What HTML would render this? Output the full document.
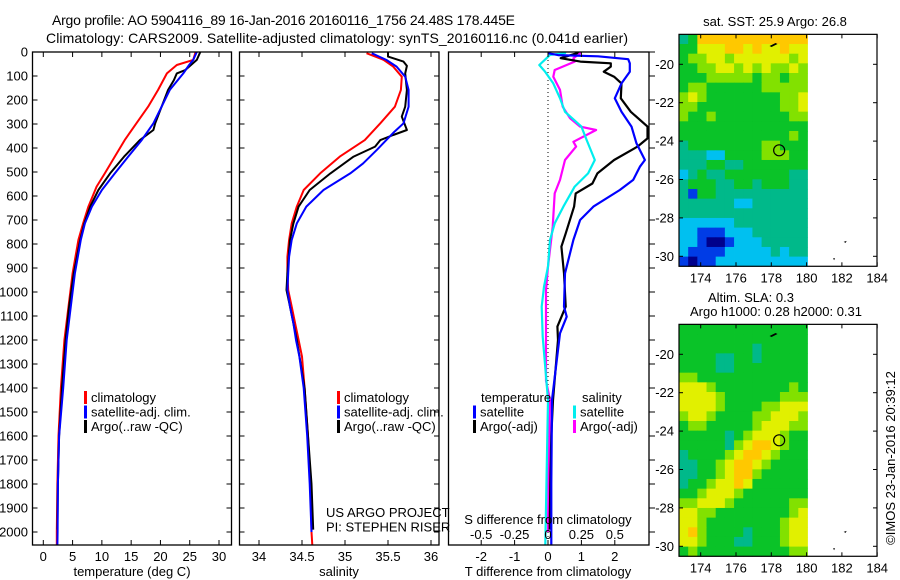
<!DOCTYPE html>
<html><head><meta charset="utf-8">
<style>
html,body{margin:0;padding:0;background:#fff;}
svg{display:block;font-family:"Liberation Sans",sans-serif;}
text{fill:#000;}
</style></head>
<body>
<svg id="fig" width="900" height="580" viewBox="0 0 900 580" xmlns="http://www.w3.org/2000/svg">
<text x="52" y="25" font-size="14" textLength="463">Argo profile: AO 5904116_89 16-Jan-2016 20160116_1756 24.48S 178.445E</text>
<text x="46" y="43" font-size="14" textLength="582">Climatology: CARS2009. Satellite-adjusted climatology: synTS_20160116.nc (0.041d earlier)</text>
<g id="p1"></g>
<g id="p2"></g>
<g id="p3"></g>
<g id="m1"></g>
<g id="m2"></g>
<text x="0" y="0" font-size="13" transform="translate(895,458) rotate(-90)" text-anchor="middle">©IMOS 23-Jan-2016 20:39:12</text>
</svg>
<script>
// ---- profile data ----
const tClimDepth=[0,33,54,89,158,228,297,367,436,506,561,644,714,783,922,1061,1200,1400,1600,1800,2000,2054];
const tClimVal=[26.0,25.6,22.8,21.1,19.6,17.9,15.9,13.9,12.2,10.5,9.1,7.7,6.8,6.0,5.0,4.3,3.6,3.0,2.6,2.4,2.3,2.3];
const tSatDepth=[0,33,54,89,158,228,297,367,436,506,575,644,714,783,922,1061,1200,1400,1600,1800,2000,2054];
const tSatVal=[26.2,25.6,24.9,23.9,21.6,20.2,18.8,16.8,14.5,12.2,10.0,8.3,7.1,6.4,5.4,4.7,4.0,3.4,2.7,2.5,2.45,2.4];
const tArgoDepth=[0,33,76,89,117,158,228,297,325,367,436,506,575,644,714,783,922,1061,1200,1400,1600,1800,1990];
const tArgoVal=[26.8,26.2,24.2,22.8,22.3,21.3,20.2,19.1,18.8,16.5,13.8,11.4,9.4,8.0,7.0,6.3,5.2,4.4,3.8,3.2,2.7,2.5,2.4];
const sClimDepth=[5,33,61,103,158,228,297,367,436,506,575,644,714,783,853,922,992,1061,1130,1200,1269,1400,1600,1800,2000,2054];
const sClimVal=[35.25,35.45,35.56,35.66,35.65,35.58,35.41,35.23,34.94,34.71,34.52,34.44,34.38,34.35,34.33,34.33,34.34,34.38,34.42,34.46,34.50,34.53,34.57,34.60,34.61,34.62];
const sSatDepth=[5,33,61,103,158,228,297,337,408,464,506,575,644,714,783,853,922,992,1061,1130,1200,1269,1400,1600,1800,2000];
const sSatVal=[35.31,35.48,35.60,35.70,35.74,35.74,35.68,35.56,35.37,35.21,35.06,34.75,34.55,34.44,34.38,34.35,34.34,34.33,34.36,34.40,34.43,34.47,34.52,34.56,34.59,34.61];
const sArgoDepth=[0,19,40,58,89,158,228,269,325,346,367,394,436,506,575,644,714,783,922,992,1061,1200,1400,1600,1800,1990];
const sArgoVal=[35.50,35.50,35.68,35.72,35.70,35.72,35.70,35.66,35.72,35.56,35.41,35.35,35.10,34.83,34.59,34.46,34.40,34.36,34.33,34.32,34.36,34.44,34.53,34.57,34.61,34.63];
const dTSatDepth=[5,13,18,30,47,82,131,193,249,311,381,450,478,533,575,644,700,783,922,1061,1103,1172,1450,1800,2000,2054];
const dTSatVal=[0.0,0.3,1.5,2.4,2.45,2.45,2.2,2.0,2.2,2.5,2.65,2.9,2.75,2.55,2.15,1.36,0.96,0.76,0.51,0.48,0.56,0.36,0.12,0.1,0.1,0.1];
const dTArgoDepth=[0,5,26,40,47,61,82,103,131,193,249,311,360,394,450,506,548,589,644,756,811,922,1061,1144,1200,1450,1600,1800,1990];
const dTArgoVal=[0.9,0.87,0.38,0.97,1.88,1.88,1.67,1.98,2.2,2.18,2.48,2.98,2.98,2.68,1.98,1.48,1.33,0.83,0.78,0.53,0.40,0.48,0.53,0.28,0.3,0.15,0.1,0.07,0.05];
const dSSatDepth=[0,5,12,54,82,131,193,249,311,367,450,506,561,644,714,783,894,978,1061,1186,1450,1900,2054];
const dSSatVal=[0.13,0.127,0.015,-0.065,-0.022,0.04,0.09,0.127,0.25,0.29,0.35,0.30,0.20,0.115,0.05,0.015,0.0,-0.03,-0.047,-0.04,0.0,-0.015,-0.02];
const dSArgoDepth=[0,5,26,40,75,103,158,228,276,311,325,374,394,450,533,589,728,894,992,1130,1370,1450,1700,2000];
const dSArgoVal=[0.24,0.24,0.19,0.2,0.05,0.04,0.09,0.11,0.165,0.24,0.36,0.19,0.21,0.127,0.09,0.05,0.035,0.0,-0.015,-0.015,-0.015,0.015,0.005,0.0];
const tTicks=[0,5,10,15,20,25,30];
const sTicks=[34,34.5,35,35.5,36];
const sTickLabels=["34","34.5","35","35.5","36"];
const dTTicks=[-2,-1,0,1,2];
const dSTicks=[-0.5,-0.25,0,0.25,0.5];
const dSTickLabels=["-0.5","-0.25","0","0.25","0.5"];
const depthTicks=[0,100,200,300,400,500,600,700,800,900,1000,1100,1200,1300,1400,1500,1600,1700,1800,1900,2000];
// ---- map data (levels 0..7) ----
const sstRows=["34777777777777","44666776766766","45566566666656","44556656565565","44455555455455","45544444455555","56544444444556","55444444444556","54454444444455","44444444444444","44444444444454","34444444455444","33322444455544","33344334444444","23433444444433","34443344344433","31443333333333","33333322333333","33333333333333","22222233333333","22111222333333","22100122233333","21111222223233","10112222222222"];
const slaRows=["44444444444444","44444444444444","44444444344444","44443344344444","44443344444444","55444444444444","66654444444454","66665444444555","66665444455666","56654444556665","45544444566655","44444345666544","44444356776544","34444567765444","33445677654444","33445677544444","34456676444444","44566654444444","55666544444455","66554444444456","66544444444566","67544443444566","66544433444566","45444444444455"];
const lonTicks=[174,176,178,180,182,184];
const latTicks=[-20,-22,-24,-26,-28,-30];
const argoLon=178.445, argoLat=-24.48;

const NS="http://www.w3.org/2000/svg";
function mk(parent,tag,attrs,txt){const e=document.createElementNS(NS,tag);for(const k in attrs)e.setAttribute(k,attrs[k]);if(txt!==undefined)e.textContent=txt;parent.appendChild(e);return e;}
const yD=d=>52+d*0.24;
const TOP=52,BOT=545;
const xT=t=>43.3+t*5.857;
const xS=s=>259+(s-34)*86;
const xDT=t=>548+t*33.4;
const xDS=s=>548+s*133.6;

function frame(g,x0,x1,name){
  const r=mk(g,'rect',{x:x0,y:TOP,width:x1-x0,height:BOT-TOP,fill:'none',stroke:'#000','stroke-width':1.3});
  
  
  depthTicks.forEach(d=>{
    const y=yD(d);
    const a=mk(g,'line',{x1:x0,x2:x0+5,y1:y,y2:y,stroke:'#000'});
    
    
    const b=mk(g,'line',{x1:x1,x2:x1-5,y1:y,y2:y,stroke:'#000'});
    
    
  });
}
function xticks(g,vals,labels,fx,y,lab){
  vals.forEach((v,i)=>{
    const x=fx(v);
    const a=mk(g,'line',{x1:x,x2:x,y1:BOT,y2:BOT-5,stroke:'#000'});
    
    
    const b=mk(g,'line',{x1:x,x2:x,y1:TOP,y2:TOP+5,stroke:'#000'});
    
    
    if(lab){const t=mk(g,'text',{x:x,y:y,'font-size':13,'text-anchor':'middle'},labels[i]);
    
    }
  });
}
function line(g,ds,vs,fx,color,w,name){
  const pts=ds.map((d,i)=>fx(vs[i]).toFixed(1)+','+yD(d).toFixed(1)).join(' ');
  const p=mk(g,'polyline',{points:pts,fill:'none',stroke:color,'stroke-width':w,'stroke-linejoin':'round'});
  
  
}
function legend(g,x,y,items){
  items.forEach((it,i)=>{
    const yy=y+i*14.5;
    const r=mk(g,'rect',{x:x,y:yy-11,width:3,height:13,fill:it[0]});
    
    
    const t=mk(g,'text',{x:x+7,y:yy,'font-size':13},it[1]);
    
    
  });
}
function clip(id,x0,x1,y0,y1){const svg=document.getElementById('fig');let defs=svg.querySelector('defs');if(!defs)defs=mk(svg,'defs',{});const c=mk(defs,'clipPath',{id:id});mk(c,'rect',{x:x0,y:y0,width:x1-x0,height:y1-y0});}

// Panel 1
const p1=document.getElementById('p1');
clip('c1',32.5,231.5,TOP,BOT);clip('c2',239.5,439,TOP,BOT);clip('c3',448.5,649,TOP,BOT);
const g1=mk(p1,'g',{'clip-path':'url(#c1)'});
line(g1,tClimDepth,tClimVal,xT,'#f00',2,'temp-climatology-line');
line(g1,tArgoDepth,tArgoVal,xT,'#000',2,'temp-argo-line');
line(g1,tSatDepth,tSatVal,xT,'#00f',2,'temp-satellite-line');
frame(p1,32.5,231.5,'temp-plot-frame');
xticks(p1,tTicks,tTicks.map(String),xT,561,true);
depthTicks.forEach(d=>{const t=mk(p1,'text',{x:28,y:yD(d)+4.5,'font-size':13,'text-anchor':'end'},String(d));

});
const xl1=mk(p1,'text',{x:132,y:576,'font-size':13,'text-anchor':'middle'},'temperature (deg C)');


legend(p1,84,402,[['#f00','climatology'],['#00f','satellite-adj. clim.'],['#000','Argo(..raw -QC)']]);

// Panel 2
const p2=document.getElementById('p2');
const g2=mk(p2,'g',{'clip-path':'url(#c2)'});
line(g2,sClimDepth,sClimVal,xS,'#f00',2,'sal-climatology-line');
line(g2,sArgoDepth,sArgoVal,xS,'#000',2,'sal-argo-line');
line(g2,sSatDepth,sSatVal,xS,'#00f',2,'sal-satellite-line');
frame(p2,239.5,439,'sal-plot-frame');
xticks(p2,sTicks,sTickLabels,xS,561,true);
const xl2=mk(p2,'text',{x:339,y:576,'font-size':13,'text-anchor':'middle'},'salinity');


legend(p2,337,402,[['#f00','climatology'],['#00f','satellite-adj. clim.'],['#000','Argo(..raw -QC)']]);
const us=mk(p2,'text',{x:326,y:517,'font-size':13},'US ARGO PROJECT');


const pi=mk(p2,'text',{x:326,y:531.5,'font-size':13},'PI: STEPHEN RISER');



// Panel 3
const p3=document.getElementById('p3');
const zl=mk(p3,'line',{x1:548,x2:548,y1:TOP,y2:BOT,stroke:'#000','stroke-dasharray':'1,3'});


const g3=mk(p3,'g',{'clip-path':'url(#c3)'});
line(g3,dSArgoDepth,dSArgoVal,xDS,'#f0f',2.2,'sal-diff-argo-line');
line(g3,dSSatDepth,dSSatVal,xDS,'#0ee',2.2,'sal-diff-satellite-line');
line(g3,dTArgoDepth,dTArgoVal,xDT,'#000',2.2,'temp-diff-argo-line');
line(g3,dTSatDepth,dTSatVal,xDT,'#00f',2.2,'temp-diff-satellite-line');
mk(p3,'rect',{x:448.5,y:TOP,width:200.5,height:BOT-TOP,fill:'none',stroke:'#000','stroke-width':1.3});
depthTicks.forEach(d=>{const y=yD(d);const a=mk(p3,'line',{x1:649,x2:655,y1:y,y2:y,stroke:'#000'});

});
xticks(p3,dTTicks,dTTicks.map(String),xDT,561,true);
dSTicks.forEach((v,i)=>{const t=mk(p3,'text',{x:xDS(v),y:539,'font-size':13,'text-anchor':'middle'},dSTickLabels[i]);

});
const sdt=mk(p3,'text',{x:548,y:524,'font-size':13,'text-anchor':'middle'},'S difference from climatology');


const tdt=mk(p3,'text',{x:548,y:576,'font-size':13,'text-anchor':'middle'},'T difference from climatology');


const lt=mk(p3,'text',{x:481,y:402,'font-size':13},'temperature');


const ls=mk(p3,'text',{x:582,y:402,'font-size':13},'salinity');


legend(p3,473,416.5,[['#00f','satellite'],['#000','Argo(-adj)']]);
legend(p3,573,416.5,[['#0ee','satellite'],['#f0f','Argo(-adj)']]);

// Maps
const levelColors=['#00008c','#003ce6','#00c0f0','#00b98a','#0ac328','#82e100','#e1f000','#ffc800'];
const lonX=l=>700.7+(l-174)*17.65;
function drawMap(gid,rows,dy){
  const g=document.getElementById(gid);
  const latY=a=>64.3+(-20-a)*19.2+dy;
  const lon0=172.77,lon1=180.05,lat0=-18.44,lat1=-30.52;
  const nr=rows.length,nc=rows[0].length;
  const cw=(lon1-lon0)/nc,ch=(lat0-lat1)/nr;
  rows.forEach((row,r)=>{for(let c=0;c<nc;c++){
    const x=lonX(lon0+c*cw),y=latY(lat0-r*ch);
    const cell=mk(g,'rect',{x:x.toFixed(2),y:y.toFixed(2),width:(lonX(lon0+(c+1)*cw)-x+0.4).toFixed(2),height:(latY(lat0-(r+1)*ch)-y+0.4).toFixed(2),fill:levelColors[+row[c]]});
    
    
  }});
  mk(g,'path',{d:`M${lonX(177.9)},${latY(-19.05)} l6,-3 l2,1 l-6,3 z`,fill:'#000'});
  mk(g,'path',{d:`M${lonX(182.1)},${latY(-29.25)} l3,-1 l-1,2 z`,fill:'#000'});
  mk(g,'path',{d:`M${lonX(181.5)},${latY(-30.1)} l2,0 l-1,2 z`,fill:'#000'});
  const box=mk(g,'rect',{x:679,y:latY(lat0),width:198,height:latY(lat1)-latY(lat0),fill:'none',stroke:'#000','stroke-width':1.2});
  
  
  lonTicks.forEach(l=>{const x=lonX(l);
    mk(g,'line',{x1:x,x2:x,y1:latY(lat1),y2:latY(lat1)-4,stroke:'#000'});
    mk(g,'line',{x1:x,x2:x,y1:latY(lat0),y2:latY(lat0)+4,stroke:'#000'});
    const t=mk(g,'text',{x:x,y:latY(lat1)+16,'font-size':13,'text-anchor':'middle'},String(l));
    
    });
  latTicks.forEach(a=>{const y=latY(a);
    mk(g,'line',{x1:679,x2:683,y1:y,y2:y,stroke:'#000'});
    mk(g,'line',{x1:877,x2:873,y1:y,y2:y,stroke:'#000'});
    const t=mk(g,'text',{x:674,y:y+4.5,'font-size':13,'text-anchor':'end'},String(a));
    
    });
  const m=mk(g,'circle',{cx:lonX(argoLon),cy:latY(argoLat),r:5.5,fill:'none',stroke:'#000','stroke-width':1.2});
  
  
}
drawMap('m1',sstRows,0);
drawMap('m2',slaRows,290);
const mt1=mk(document.getElementById('m1'),'text',{x:775,y:26,'font-size':13,'text-anchor':'middle'},'sat. SST: 25.9 Argo: 26.8');


const mt2=mk(document.getElementById('m2'),'text',{x:751,y:302,'font-size':13,'text-anchor':'middle'},'Altim. SLA: 0.3');


const mt3=mk(document.getElementById('m2'),'text',{x:776,y:316,'font-size':13,'text-anchor':'middle'},'Argo h1000: 0.28 h2000: 0.31');


</script>
</body></html>
